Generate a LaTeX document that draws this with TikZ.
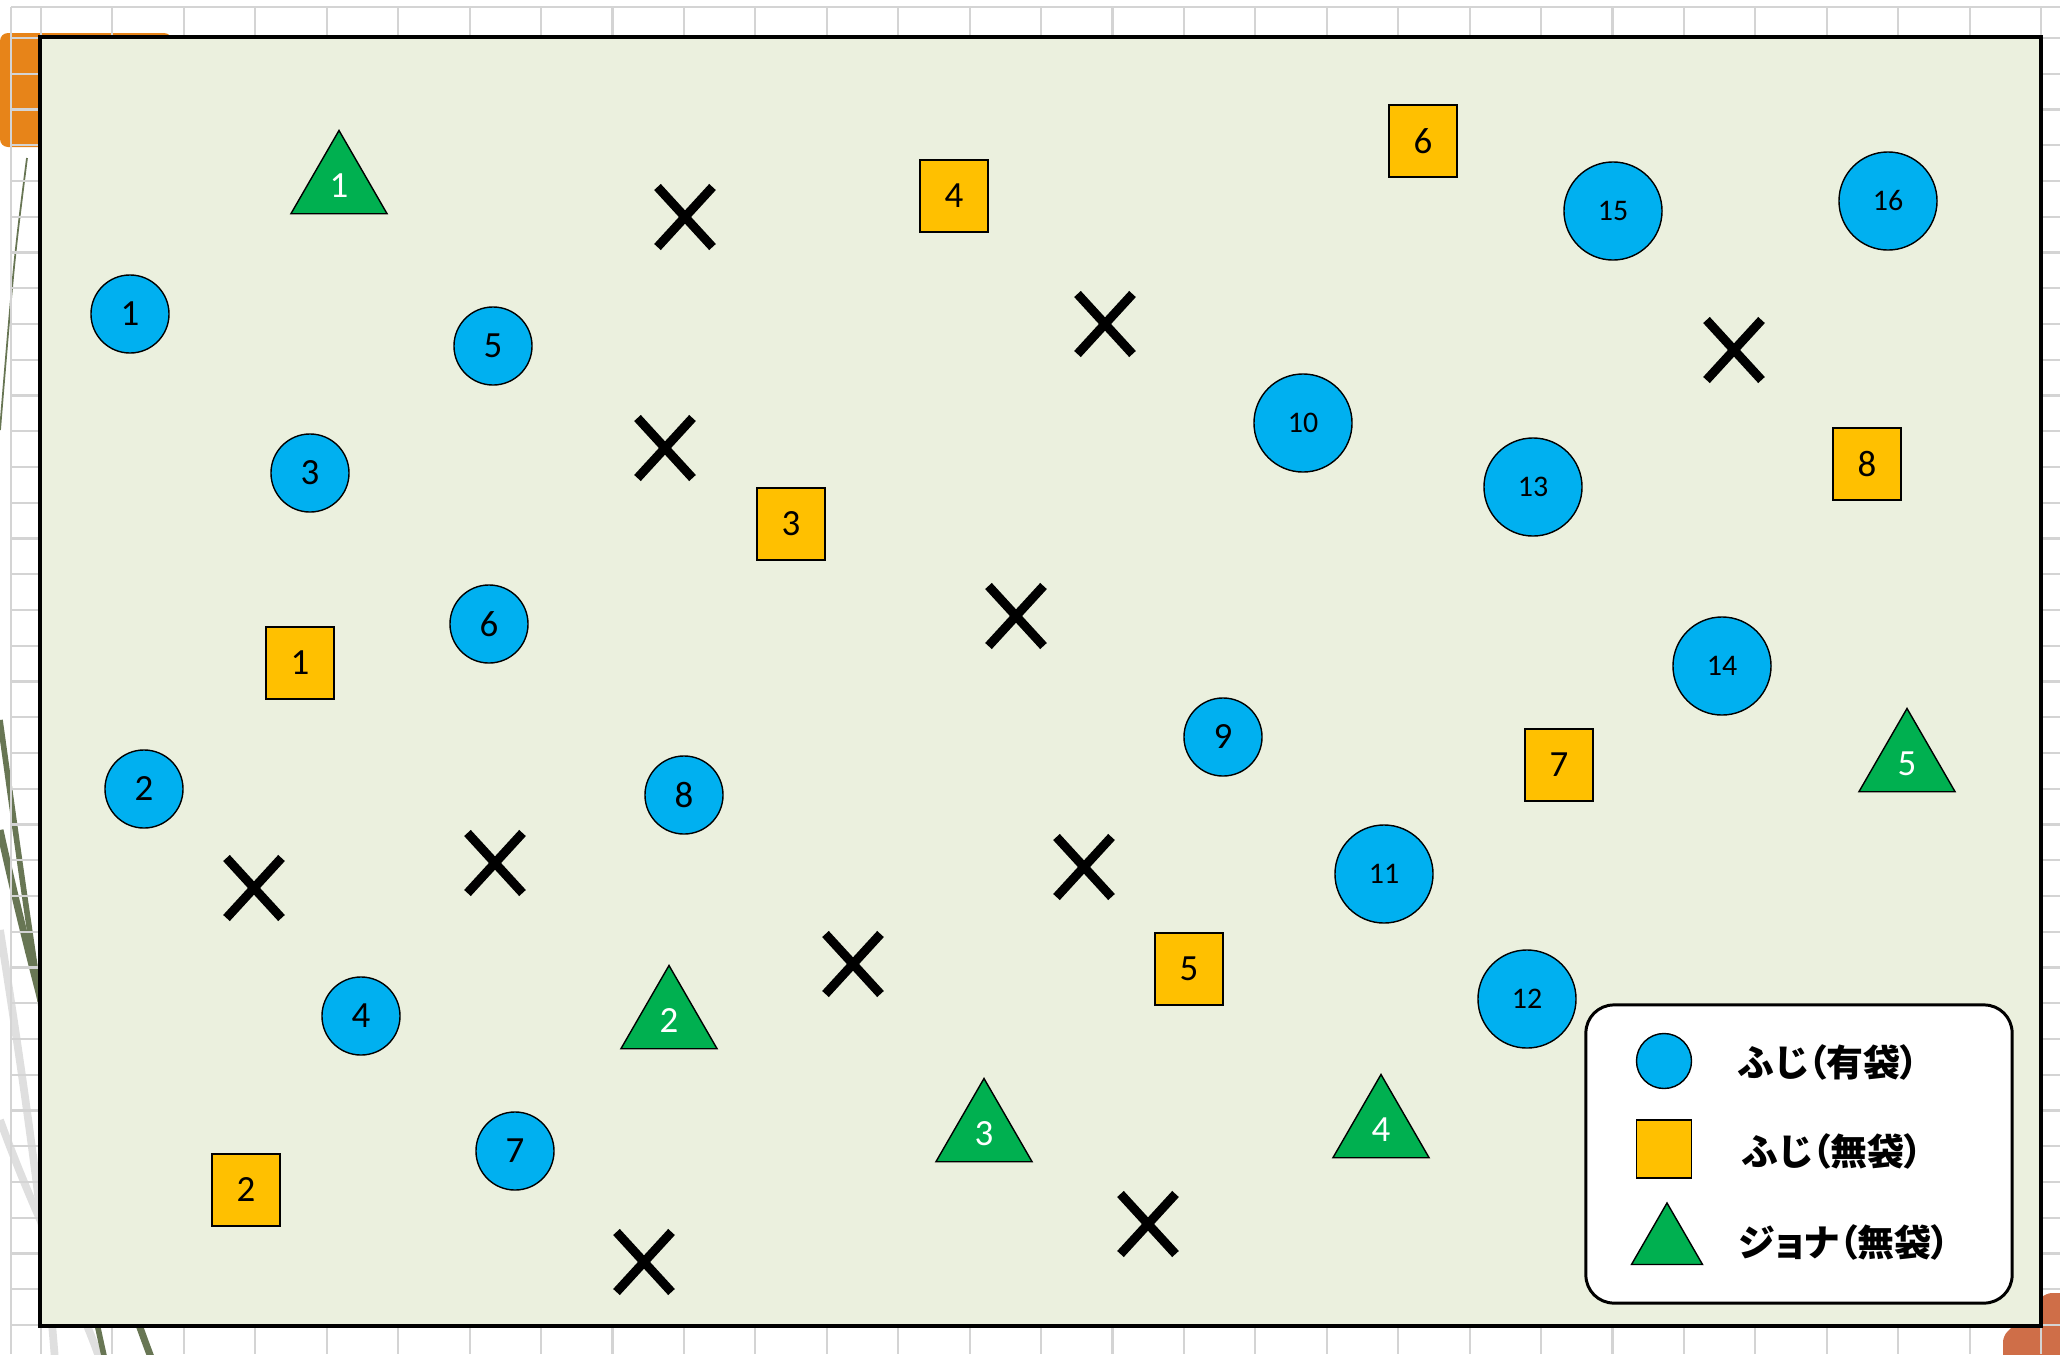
\documentclass[tikz,border=0pt]{standalone}
\usepackage{fontspec}
\setmainfont{Carlito}
\newfontfamily\jpfont{Noto Sans CJK JP}[RawFeature=+palt]
\usetikzlibrary{shapes.geometric,shapes.misc}
\definecolor{fieldgreen}{RGB}{235,240,222}
\definecolor{fujiblue}{RGB}{0,176,240}
\definecolor{fujiyellow}{RGB}{255,192,0}
\definecolor{jonagreen}{RGB}{0,176,80}
\definecolor{sheetgrid}{RGB}{212,212,212}
\definecolor{taborange}{RGB}{231,132,25}
\definecolor{cornerorange}{RGB}{207,110,72}
\definecolor{stemolive}{RGB}{104,118,84}
\tikzset{
    baggedtree/.style={
        circle,
        draw=black,
        line width=0.4pt,
        fill=fujiblue,
        inner sep=0pt,
        minimum size=0.78cm,
        font=\fontsize{10.5}{12}\selectfont
    },
    bigtree/.style={
        baggedtree,
        minimum size=0.98cm,
        font=\fontsize{8.5}{10}\selectfont
    },
    baretree/.style={
        rectangle,
        draw=black,
        line width=0.4pt,
        fill=fujiyellow,
        inner sep=0pt,
        minimum width=0.68cm,
        minimum height=0.72cm,
        font=\fontsize{10.5}{12}\selectfont
    },
    jonatree/.style={
        regular polygon,
        regular polygon sides=3,
        draw=black,
        line width=0.4pt,
        fill=jonagreen,
        text=white,
        inner sep=0pt,
        minimum size=1.11cm,
        font=\fontsize{10.5}{12}\selectfont
    },
    deadtree/.style={
        cross out,
        draw=black,
        line width=0.09cm,
        inner sep=0pt,
        minimum width=0.46cm,
        minimum height=0.51cm
    },
    gridline/.style={draw=sheetgrid, line width=0.6pt},
    legendtext/.style={
        anchor=west,
        inner sep=0pt,
        font=\jpfont\bfseries\fontsize{10.5}{12}\selectfont
    }
}

\begin{document}
\begin{tikzpicture}[x=0.01cm,y=-0.01cm]

\useasboundingbox (0,0) rectangle (2060,1354);
\clip (0,0) rectangle (2060,1354);

% ---------------------------------------------------------
% Sheet behind the field
% ---------------------------------------------------------
\fill[taborange, rounded corners=0.08cm] (0,147) -- (0,33) -- (172,33) -- (172,147) -- cycle;
\fill[cornerorange, rounded corners=0.06cm] (2003,1360) -- (2003,1336) -- (2046,1293) -- (2070,1293) -- (2070,1360) -- cycle;

\draw[stemolive, line width=0.5pt] (27,158) .. controls (14,260) .. (0,430);
\draw[gray!25, line width=2.2pt] (0,930) .. controls (25,1090) and (45,1230) .. (55,1360);
\draw[gray!25, line width=2.2pt] (0,1120) .. controls (40,1230) and (80,1300) .. (100,1360);
\draw[stemolive, line width=1.6pt] (0,720) .. controls (25,900) and (60,1160) .. (105,1360);
\draw[stemolive, line width=2pt] (0,830) .. controls (35,990) and (95,1210) .. (152,1360);

\draw[gridline] (11,7) -- (11,1354);
\draw[gridline] (11,7) -- (2060,7);
\foreach \k in {0,...,28}
{
    \draw[gridline] ({41+71.43*\k},7) -- ++(0,1347);
}
\foreach \k in {0,...,36}
{
    \draw[gridline] (11,{38+35.75*\k}) -- (2060,{38+35.75*\k});
}

% ---------------------------------------------------------
% Field
% ---------------------------------------------------------
\draw[fill=fieldgreen, line width=1.1pt] (40,37) rectangle (2041,1326);

% Fuji, bagged
\foreach \n/\x/\y in {
    1/130/314,
    2/144/789,
    3/310/473,
    4/361/1016,
    5/493/346,
    6/489/624,
    7/515/1151,
    8/684/795,
    9/1223/737
}
{
    \node[baggedtree] (fuji\n) at (\x,\y) {\n};
}
\foreach \n/\x/\y in {
    10/1303/423,
    11/1384/874,
    12/1527/999,
    13/1533/487,
    14/1722/666,
    15/1613/211,
    16/1888/201
}
{
    \node[bigtree] (fuji\n) at (\x,\y) {\n};
}

% Fuji, not bagged
\foreach \n/\x/\y in {
    1/300/663,
    2/246/1190,
    3/791/524,
    4/954/196,
    5/1189/969,
    6/1423/141,
    7/1559/765,
    8/1867/464
}
{
    \node[baretree] (bare\n) at (\x,\y) {\n};
}

% Jonathan, not bagged
\foreach \n/\x/\y in {
    1/339/186,
    2/669/1021,
    3/984/1134,
    4/1381/1130,
    5/1907/764
}
{
    \node[jonatree] (jona\n) at (\x,\y) {\n};
}

% Missing trees
\foreach \x/\y [count=\i] in {
    685/217, 1105/324, 665/448, 1016/616, 1734/350, 254/888,
    495/863, 1084/867, 853/964, 1148/1224, 644/1262
}
{
    \node[deadtree] (gone\i) at (\x,\y) {};
}

% ---------------------------------------------------------
% Legend
% ---------------------------------------------------------
\node[draw=black, fill=white, line width=0.85pt, rounded corners=0.28cm,
    minimum width=4.26cm, minimum height=2.98cm] (legend) at (1799,1154) {};

\node[baggedtree, minimum size=0.55cm] (keyfuji) at (1664,1061) {};
\node[baretree, minimum width=0.55cm, minimum height=0.58cm] (keybare) at (1664,1149) {};
\node[jonatree, minimum size=0.82cm] (keyjona) at (1667,1244) {};

\node[legendtext] (keyfujitext) at (1738,1062) {ふじ（有袋）};
\node[legendtext] (keybaretext) at (1742,1151) {ふじ（無袋）};
\node[legendtext] (keyjonatext) at (1738,1242) {ジョナ（無袋）};

\end{tikzpicture}
\end{document}
